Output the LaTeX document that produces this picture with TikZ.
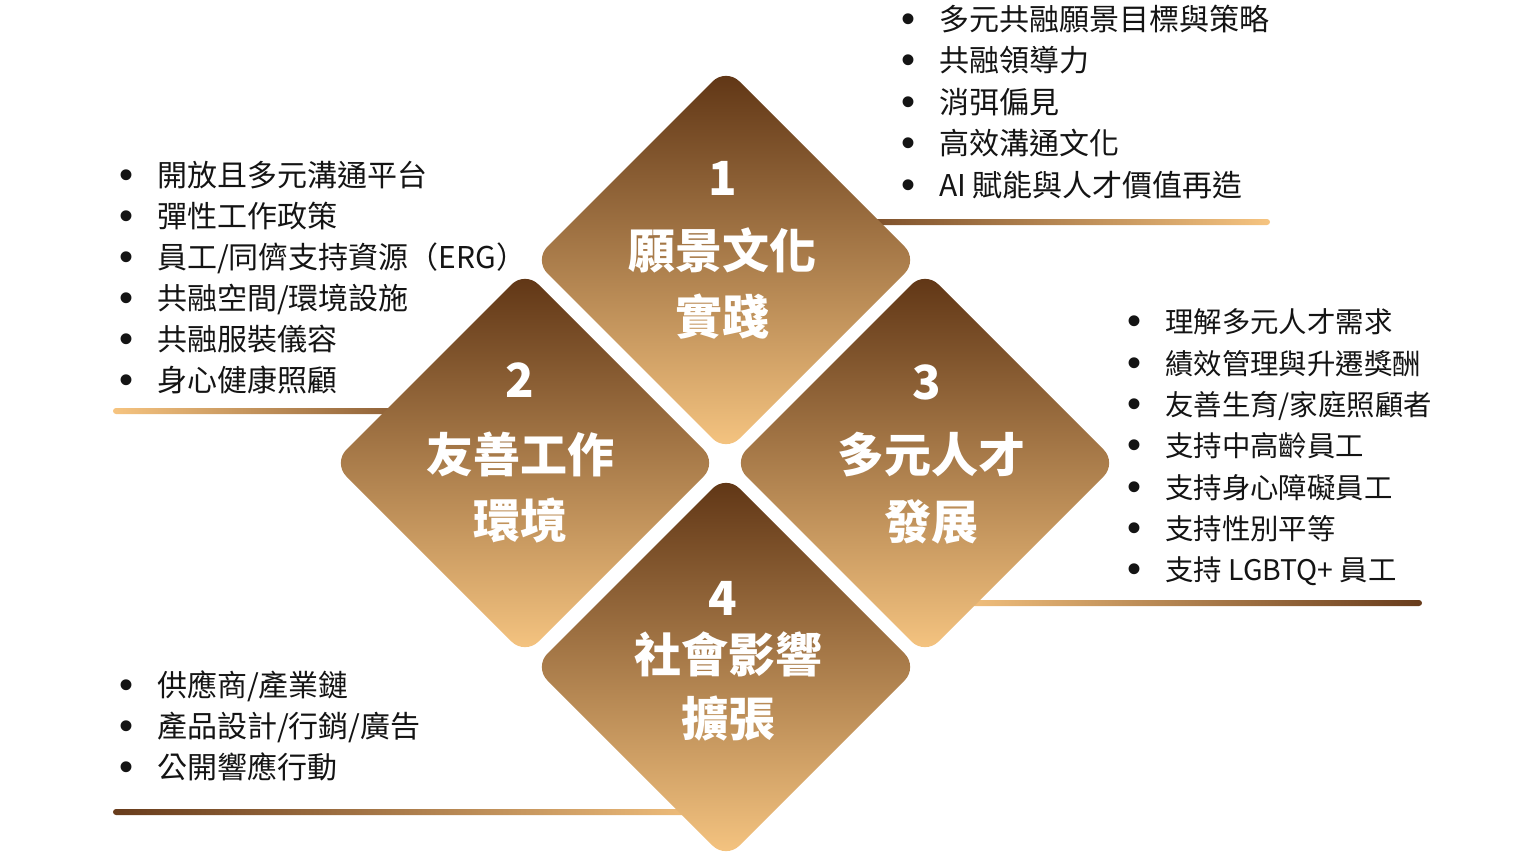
\documentclass[tikz,border=0pt]{standalone}
\usepackage{fontspec}
\setmainfont{Noto Sans CJK TC}
\newfontfamily\bulfont{Liberation Sans}
\definecolor{dtop}{RGB}{94,52,20}
\definecolor{dbot}{RGB}{247,198,130}
\definecolor{ldark}{RGB}{104,60,28}
\definecolor{llight}{RGB}{246,196,128}
\definecolor{ink}{RGB}{20,20,20}
\tikzset{
  dia/.style={top color=dtop, bottom color=dbot, rounded corners=19pt},
  bar/.style={rounded corners=3pt},
  dtext/.style={anchor=base, text=white, font=\fontsize{47}{47}\selectfont\bfseries, inner sep=0pt},
  item/.style={anchor=base west, text=ink, font=\fontsize{30}{30}\selectfont, inner sep=0pt},
  smallitem/.style={item, font=\fontsize{28.4}{28.4}\selectfont},
}
\newcommand\bul{\llap{\makebox[0pt][c]{\bulfont\fontsize{40}{40}\selectfont\raisebox{-2pt}{•}}\hspace{31pt}}}
\begin{document}
\begin{tikzpicture}[x=1pt,y=-1pt]
\useasboundingbox (0,0) rectangle (1534,862);
% bars
\shade[bar, left color=ldark, right color=llight] (800,219) rectangle (1270,225);
\shade[bar, left color=llight, right color=ldark] (113,408) rectangle (500,414);
\shade[bar, left color=llight, right color=ldark] (950,600) rectangle (1422,606);
\shade[bar, left color=ldark, right color=llight] (113,809) rectangle (726,815);
% diamonds
\foreach \cx/\cy in {726/260, 525/463, 925/463, 726/667}
  \shade[dia] (\cx,\cy-192) -- (\cx+192,\cy) -- (\cx,\cy+192) -- (\cx-192,\cy) -- cycle;
% diamond texts
\node[dtext] (n1) at (723,195) {1};
\node[dtext] (t1a) at (722,268.5) {願景文化};
\node[dtext] (t1b) at (722,334.5) {實踐};
\node[dtext] (n2) at (520,397) {2};
\node[dtext] (t2a) at (520,472.5) {友善工作};
\node[dtext] (t2b) at (520,538.5) {環境};
\node[dtext] (n3) at (927,399) {3};
\node[dtext] (t3a) at (931,472.5) {多元人才};
\node[dtext] (t3b) at (931,539.5) {發展};
\node[dtext] (n4) at (723,615) {4};
\node[dtext] (t4a) at (728,672.5) {社會影響};
\node[dtext] (t4b) at (728,736.5) {擴張};
% lists
\foreach \t [count=\i] in {多元共融願景目標與策略, 共融領導力, 消弭偏見, 高效溝通文化, AI 賦能與人才價值再造}
  \node[item] (a\i) at (939,{30+41.5*(\i-1)}) {\bul\t};
\foreach \t [count=\i] in {開放且多元溝通平台, 彈性工作政策, 員工/同儕支持資源（ERG）, 共融空間/環境設施, 共融服裝儀容, 身心健康照顧}
  \node[item] (b\i) at (157,{186.4+41*(\i-1)}) {\bul\t};
\foreach \t [count=\i] in {理解多元人才需求, 績效管理與升遷獎酬, 友善生育/家庭照顧者, 支持中高齡員工, 支持身心障礙員工, 支持性別平等, 支持 LGBTQ+ 員工}
  \node[smallitem] (c\i) at (1165,{332.8+41.3*(\i-1)}) {\bul\t};
\foreach \t [count=\i] in {供應商/產業鏈, 產品設計/行銷/廣告, 公開響應行動}
  \node[item] (d\i) at (157,{696.4+41*(\i-1)}) {\bul\t};
\end{tikzpicture}
\end{document}
